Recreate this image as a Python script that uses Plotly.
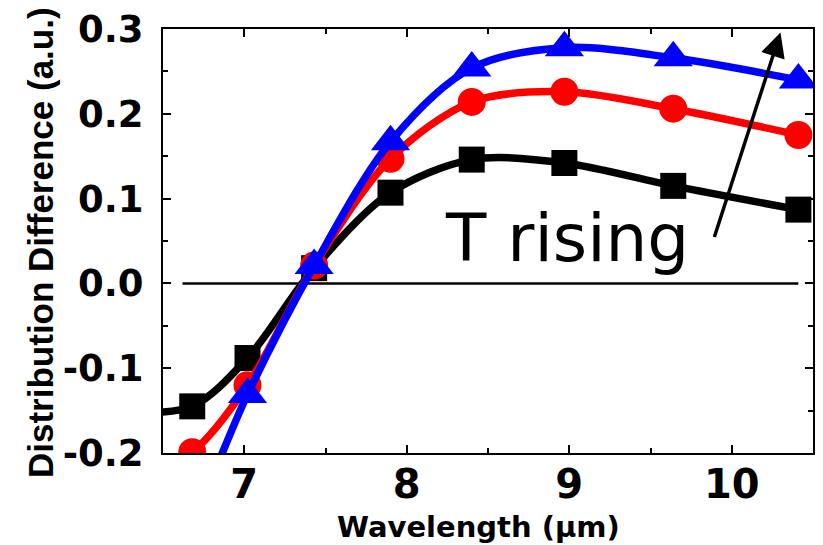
import plotly.graph_objects as go

# Wavelength positions (µm); first point lies left of the visible range
wavelength = [6.30, 6.68, 7.02, 7.43, 7.90, 8.40, 8.97, 9.64, 10.41]
series_low = [-0.152, -0.145, -0.088, 0.018, 0.107, 0.146, 0.142, 0.115, 0.087]
series_mid = [-0.235, -0.199, -0.120, 0.021, 0.147, 0.214, 0.226, 0.206, 0.175]
series_high = [-0.400, -0.280, -0.131, 0.021, 0.167, 0.254, 0.278, 0.266, 0.240]
zero_x = [6.62, 10.41]
zero_y = [0.0, 0.0]
x_ticks = [7, 8, 9, 10]
y_ticks = [-0.2, -0.1, 0.0, 0.1, 0.2, 0.3]
y_ticklabels = ["-0.2", "-0.1", "0.0", "0.1", "0.2", "0.3"]

fig = go.Figure()
fig.add_trace(go.Scatter(x=zero_x, y=zero_y, mode="lines",
                         line=dict(color="black", width=2.5), showlegend=False))
for ys, col, sym, sz in [(series_low, "#000000", "square", 26),
                         (series_mid, "#ff0000", "circle", 28),
                         (series_high, "#0000ff", "triangle-up", 34)]:
    fig.add_trace(go.Scatter(x=wavelength, y=ys, mode="lines+markers",
                             line=dict(color=col, width=7.5, shape="spline", smoothing=0.9),
                             marker=dict(color=col, symbol=sym, size=sz, line=dict(width=0)),
                             showlegend=False))

fig.add_annotation(x=10.30, y=0.296, ax=9.89, ay=0.053, xref="x", yref="y",
                   axref="x", ayref="y", showarrow=True, arrowhead=2,
                   arrowsize=1.4, arrowwidth=3.5, arrowcolor="black", text="")
fig.add_annotation(x=8.985, y=0.053, xref="x", yref="y", text="T rising",
                   showarrow=False, font=dict(family="DejaVu Sans", size=66, color="black"),
                   xanchor="center", yanchor="middle")
fig.add_annotation(x=0.5, y=0, xref="paper", yref="paper", xshift=-10, yshift=-55,
                   text="Wavelength (μm)", showarrow=False, yanchor="top",
                   font=dict(family="DejaVu Sans", size=29, color="black", weight="bold"))
fig.add_annotation(x=0, y=0.5, xref="paper", yref="paper", xshift=-123, yshift=-2,
                   text="Distribution Difference (a.u.)", showarrow=False, textangle=-90,
                   xanchor="center", yanchor="middle",
                   font=dict(family="Liberation Sans", size=35, color="black", weight="bold"))

fig.update_xaxes(range=[6.5, 10.5], tickvals=x_ticks, ticks="inside", ticklen=8, tickwidth=2,
                 tickcolor="black", showline=True, linecolor="black", linewidth=2,
                 mirror="ticks", showgrid=False, zeroline=False,
                 minor=dict(dtick=0.5, tick0=6.5, ticks="inside", ticklen=5, tickwidth=2, tickcolor="black", showgrid=False),
                 tickfont=dict(family="DejaVu Sans", size=40, color="black", weight="bold"),
                 ticklabelstandoff=-5)
fig.update_yaxes(range=[-0.2, 0.3], tickvals=y_ticks, ticktext=y_ticklabels, ticks="inside",
                 ticklen=8, tickwidth=2, tickcolor="black", showline=True, linecolor="black",
                 linewidth=2, mirror="ticks", showgrid=False, zeroline=False,
                 minor=dict(dtick=0.05, tick0=0, ticks="inside", ticklen=5, tickwidth=2, tickcolor="black", showgrid=False),
                 tickfont=dict(family="DejaVu Sans", size=37, color="black", weight="bold"),
                 ticklabelstandoff=10)
fig.update_layout(width=823, height=545, margin=dict(l=163, r=8, t=27, b=92),
                  paper_bgcolor="white", plot_bgcolor="white", showlegend=False)
fig.write_html("out.html")
